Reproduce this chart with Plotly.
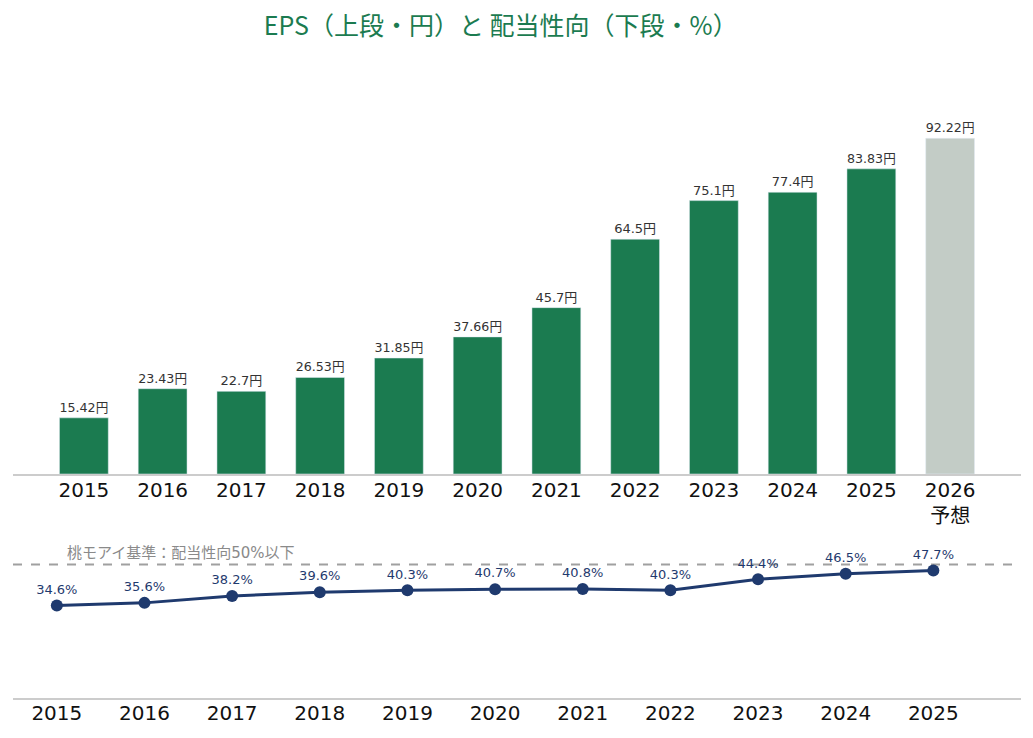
import plotly.graph_objects as go

# EPS (yen) per fiscal year, last one is forecast
eps_years = ["2015", "2016", "2017", "2018", "2019", "2020",
             "2021", "2022", "2023", "2024", "2025", "2026"]
eps_ticks = ["2015", "2016", "2017", "2018", "2019", "2020",
             "2021", "2022", "2023", "2024", "2025", "2026<br>予想"]
eps_values = [15.42, 23.43, 22.7, 26.53, 31.85, 37.66,
              45.7, 64.5, 75.1, 77.4, 83.83, 92.22]

# payout ratio (%)
payout_years = ["2015", "2016", "2017", "2018", "2019", "2020",
                "2021", "2022", "2023", "2024", "2025"]
payout_values = [34.6, 35.6, 38.2, 39.6, 40.3, 40.7, 40.8, 40.3, 44.4, 46.5, 47.7]

payout_limit = 50

GREEN = "#1b7b50"
FORECAST = "#c3ccc6"
NAVY = "#1f3a6e"
FONT = "DejaVu Sans, Noto Sans CJK JP"
TITLE_FONT = "Noto Sans CJK JP"

fig = go.Figure()

bar_colors = [GREEN] * (len(eps_values) - 1) + [FORECAST]
fig.add_trace(go.Bar(
    x=eps_years, y=eps_values,
    marker_color=bar_colors,
    width=0.62,
    text=[f"{v}円" for v in eps_values],
    textposition="outside",
    textfont=dict(size=13, color="#333333", family=FONT),
    cliponaxis=False,
    hoverinfo="skip",
    showlegend=False,
    xaxis="x", yaxis="y",
))

fig.add_trace(go.Scatter(
    x=payout_years, y=payout_values,
    mode="lines+markers+text",
    line=dict(color=NAVY, width=3),
    marker=dict(color=NAVY, size=12),
    text=[f"{v}%" for v in payout_values],
    textposition="top center",
    textfont=dict(size=13, color=NAVY, family=FONT),
    cliponaxis=False,
    showlegend=False,
    xaxis="x2", yaxis="y2",
))

# 50% reference line in the lower panel
fig.add_shape(type="line", xref="x2 domain", yref="y2",
              x0=0, x1=1, y0=payout_limit, y1=payout_limit,
              line=dict(color="#a0a0a0", width=2, dash="dash"), layer="below")
fig.add_annotation(text="桃モアイ基準：配当性向50%以下",
                   xref="paper", yref="y2", x=0.052, y=payout_limit,
                   xanchor="left", yanchor="bottom", yshift=0, showarrow=False,
                   font=dict(size=15, color="#8a8a8a", family=FONT))

fig.update_layout(
    width=1033, height=738,
    margin=dict(l=5, r=20, t=0, b=0),
    paper_bgcolor="white", plot_bgcolor="white",
    font=dict(family=FONT, color="#111111"),
    title=dict(text="EPS（上段・円）と 配当性向（下段・%）",
               x=0.477, xanchor="center", y=0.975, yanchor="middle",
               font=dict(size=25, color=GREEN, family=TITLE_FONT)),
    xaxis=dict(domain=[0, 1], type="category", range=[-0.9, 11.9],
               tickvals=eps_years, ticktext=eps_ticks,
               showline=True, linecolor="#cccccc", linewidth=1.5,
               showgrid=False, ticks="", ticklabelstandoff=-3,
               tickfont=dict(size=20, color="#111111", family=FONT),
               anchor="y"),
    yaxis=dict(domain=[0.3686, 0.8618], range=[0, 100], visible=False,
               showgrid=False, zeroline=False),
    xaxis2=dict(domain=[0, 1], type="category", range=[-0.5, 11.0],
                showline=True, linecolor="#cccccc", linewidth=1.5,
                showgrid=False, ticks="", ticklabelstandoff=-4,
                tickfont=dict(size=20, color="#111111", family=FONT),
                anchor="y2"),
    yaxis2=dict(domain=[0.065, 0.2642], range=[0, 55], visible=False,
                showgrid=False, zeroline=False),
)

fig.write_html("out.html")
